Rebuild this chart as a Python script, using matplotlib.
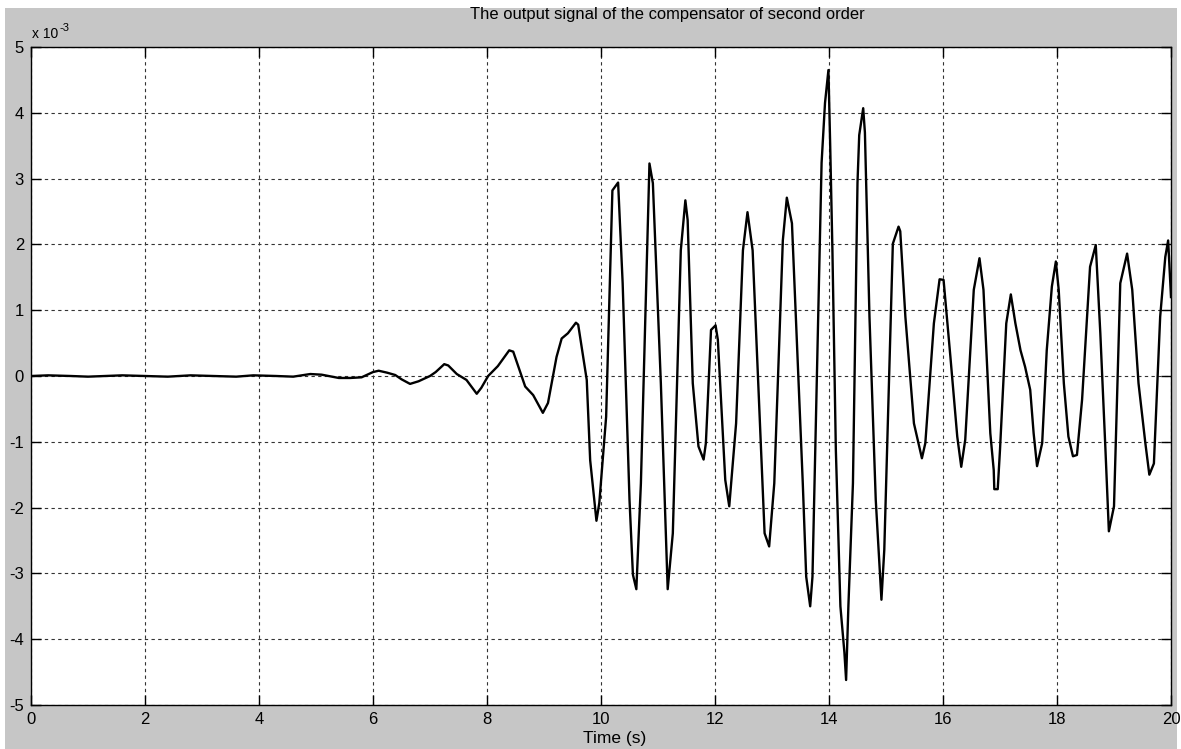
import matplotlib
matplotlib.use("Agg")
import matplotlib.pyplot as plt
from matplotlib.patches import Rectangle
from matplotlib.ticker import FuncFormatter, MultipleLocator

plt.rcParams['font.family'] = ['Liberation Sans', 'DejaVu Sans']
plt.rcParams['axes.unicode_minus'] = False

# time (s) and output signal (x 1e-3)
t = [0.0, 0.3, 0.7, 1.0, 1.3, 1.6, 2.0, 2.4, 2.8, 3.2, 3.6, 3.9, 4.3, 4.6,
     4.9, 5.1, 5.4, 5.6, 5.8, 6.0, 6.1, 6.25, 6.39, 6.5, 6.65, 6.8, 7.0,
     7.1, 7.25, 7.32, 7.47, 7.64, 7.82, 7.9, 8.02, 8.19, 8.39, 8.46, 8.67,
     8.81, 8.98, 9.07, 9.22, 9.31, 9.42, 9.56, 9.6, 9.75, 9.81, 9.92, 9.97,
     10.09, 10.2, 10.3, 10.38, 10.5, 10.56, 10.62, 10.7, 10.85, 10.91,
     11.05, 11.17, 11.26, 11.40, 11.48, 11.52, 11.61, 11.71, 11.80, 11.84,
     11.93, 12.01, 12.05, 12.18, 12.25, 12.37, 12.49, 12.57, 12.66, 12.87,
     12.95, 13.04, 13.19, 13.26, 13.35, 13.54, 13.60, 13.67, 13.71, 13.87,
     13.93, 13.99, 14.02, 14.06, 14.12, 14.2, 14.27, 14.30, 14.34, 14.42,
     14.5, 14.53, 14.6, 14.63, 14.71, 14.82, 14.92, 14.97, 15.12, 15.22,
     15.25, 15.34, 15.49, 15.63, 15.69, 15.84, 15.94, 16.01, 16.13, 16.25,
     16.32, 16.39, 16.54, 16.64, 16.71, 16.83, 16.89, 16.90, 16.96, 17.0,
     17.11, 17.19, 17.27, 17.36, 17.44, 17.53, 17.59, 17.65, 17.74, 17.82,
     17.91, 17.98, 18.03, 18.12, 18.2, 18.28, 18.35, 18.44, 18.58, 18.68,
     18.76, 18.85, 18.91, 19.0, 19.11, 19.23, 19.32, 19.43, 19.55, 19.62,
     19.70, 19.81, 19.90, 19.95, 20.0]
u = [0.0, 0.01, 0.0, -0.01, 0.0, 0.01, 0.0, -0.01, 0.01, 0.0, -0.01, 0.01,
     0.0, -0.01, 0.03, 0.02, -0.03, -0.03, -0.02, 0.06, 0.08, 0.05, 0.015,
     -0.05, -0.12, -0.08, 0.0, 0.06, 0.18, 0.16, 0.03, -0.06, -0.27, -0.18,
     0.0, 0.15, 0.39, 0.37, -0.16, -0.29, -0.56, -0.41, 0.29, 0.57, 0.65,
     0.81, 0.78, -0.06, -1.28, -2.2, -1.93, -0.62, 2.82, 2.94, 1.41, -1.88,
     -3.02, -3.24, -1.63, 3.23, 2.93, -0.11, -3.24, -2.39, 1.91, 2.67, 2.37,
     -0.11, -1.07, -1.27, -1.02, 0.70, 0.77, 0.55, -1.58, -1.98, -0.72, 1.91,
     2.49, 1.91, -2.39, -2.59, -1.63, 2.06, 2.71, 2.32, -1.63, -3.05, -3.50,
     -3.05, 3.24, 4.15, 4.65, 3.54, 1.91, -1.12, -3.5, -4.2, -4.62, -3.5,
     -1.63, 2.94, 3.66, 4.07, 3.7, 0.9, -1.88, -3.40, -2.64, 2.01, 2.27, 2.2,
     0.9, -0.72, -1.25, -1.02, 0.8, 1.47, 1.46, 0.29, -0.92, -1.38, -0.97,
     1.31, 1.79, 1.31, -0.87, -1.43, -1.72, -1.72, -1.12, 0.8, 1.24, 0.8,
     0.39, 0.14, -0.21, -0.87, -1.37, -1.02, 0.39, 1.36, 1.74, 1.31, -0.11,
     -0.92, -1.22, -1.2, -0.36, 1.66, 1.99, 0.65, -1.12, -2.36, -1.98, 1.41,
     1.86, 1.31, -0.11, -1.02, -1.50, -1.33, 0.9, 1.81, 2.06, 1.2]
y = [v * 1e-3 for v in u]

W, H = 1181, 749
fig = plt.figure(figsize=(W / 100, H / 100), dpi=100, facecolor='white')
fig.patches.append(Rectangle((5 / W, 0), 1172 / W, 741 / H,
                             transform=fig.transFigure, facecolor='#c6c6c6',
                             edgecolor='none', zorder=-10))

ax = fig.add_axes([31 / W, (H - 705) / H, 1140 / W, 658 / H])
ax.set_zorder(1)
ax.set_facecolor('white')
ax.plot(t, y, color='black', lw=1.7, zorder=3)

ax.set_xlim(0, 20)
ax.set_ylim(-5e-3, 5e-3)
ax.xaxis.set_major_locator(MultipleLocator(2))
ax.yaxis.set_major_locator(MultipleLocator(1e-3))
ax.yaxis.set_major_formatter(FuncFormatter(lambda v, p: '%d' % round(v * 1e3)))
ax.xaxis.set_major_formatter(FuncFormatter(lambda v, p: '%d' % round(v)))

ax.grid(True, color='#333333', linestyle=(0, (3, 3)), lw=0.8)
ax.tick_params(direction='in', length=7, width=1, top=True, right=True,
               labelsize=12, pad=5, colors='black')
for s in ax.spines.values():
    s.set_linewidth(1.0)
    s.set_color('black')

fig.text(470 / W, 1 - 15 / H, 'The output signal of the compensator of second order',
         fontsize=11.9, ha='left', va='center')
fig.text(615 / W, 1 - 739 / H, 'Time (s)', fontsize=12.5, ha='center', va='center')
fig.text(32 / W, 1 - 38 / H, 'x 10', fontsize=10, ha='left', va='baseline')
fig.text(60 / W, 1 - 31 / H, '-3', fontsize=8, ha='left', va='baseline')

fig.savefig('out.png', dpi=100, facecolor=fig.get_facecolor())
